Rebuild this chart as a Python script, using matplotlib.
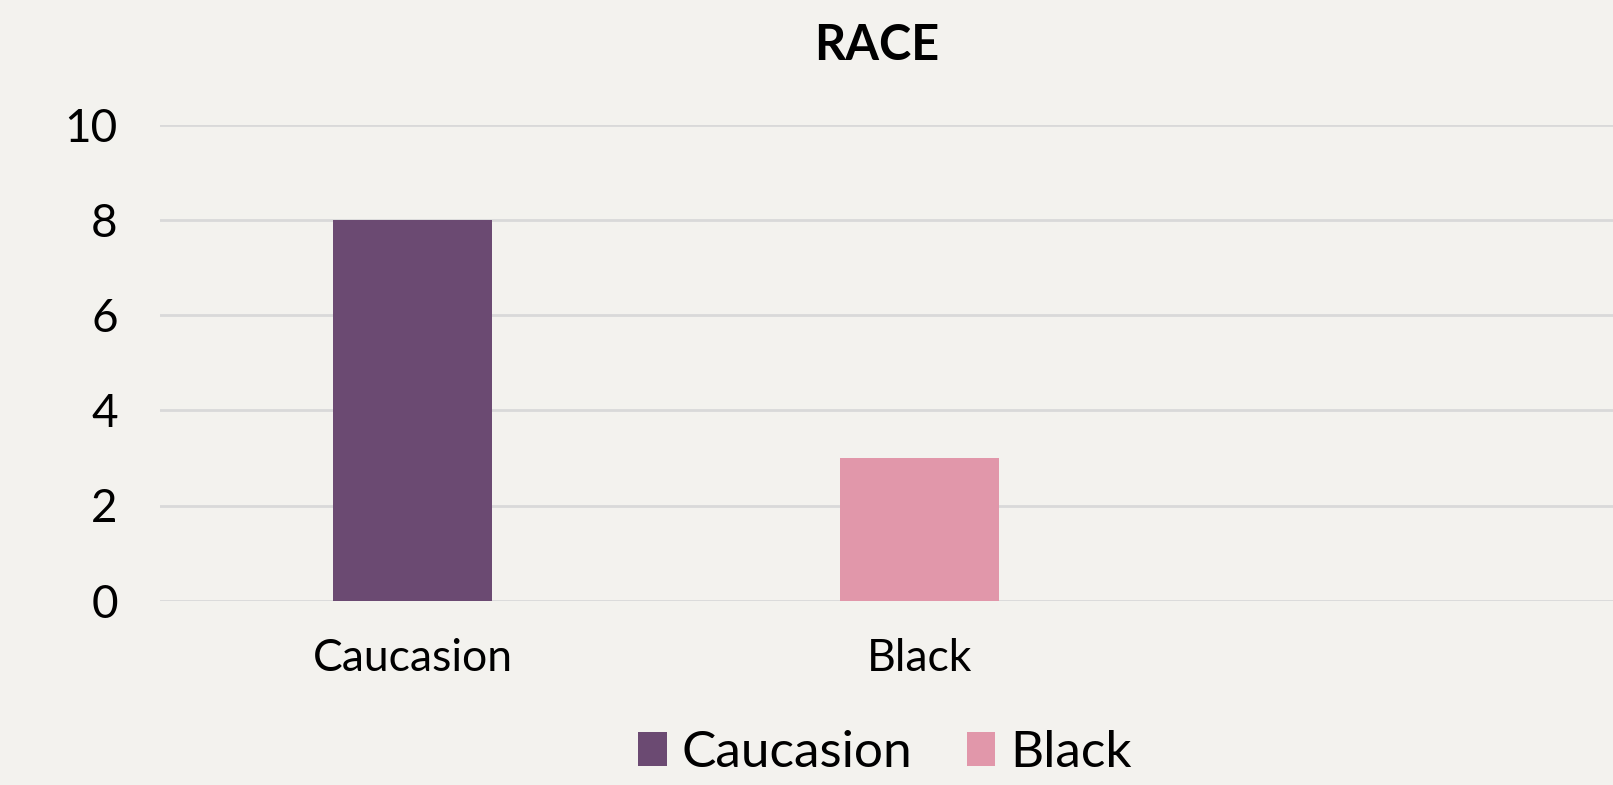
import matplotlib.pyplot as plt
from matplotlib.patches import Patch

categories = ["Caucasion", "Black", ""]
counts = [8, 3, 0]
series_colors = ["#6B4A72", "#E197AA"]
yticks = [0, 2, 4, 6, 8, 10]

plt.rcParams['font.family'] = ['Lato', 'DejaVu Sans']

bg = "#F3F2EE"
W, H = 1613, 785
fig = plt.figure(figsize=(W / 100, H / 100), dpi=100, facecolor=bg)

# plot area runs past the right edge of the image
ax = fig.add_axes([159.5 / W, (H - 600.7) / H, (1679 - 159.5) / W, (600.7 - 124.7) / H])
ax.set_facecolor(bg)

x = list(range(len(categories)))
ax.bar(x[:2], counts[:2], width=0.314, color=series_colors, zorder=3)

ax.set_xlim(-0.5, 2.5)
ax.set_ylim(0, 10)
ax.set_yticks(yticks)
ax.set_yticklabels([str(v) for v in yticks], fontsize=33)
ax.set_xticks(x)
ax.set_xticklabels(categories, fontsize=32)
ax.tick_params(axis='y', length=0, pad=30)
ax.tick_params(axis='x', length=0, pad=27)
ax.grid(axis='y', color="#D9D9D9", linewidth=2, zorder=0)
for s in ax.spines.values():
    s.set_visible(False)

fig.text(877 / W, 1 - 46 / H, "RACE", ha='center', va='center',
         fontsize=35, fontweight='bold')

handles = [Patch(facecolor=c, edgecolor='none') for c in series_colors]
fig.legend(handles, categories[:2], loc='center', bbox_to_anchor=(885 / W, 1 - 753 / H),
           ncol=2, frameon=False, fontsize=37, handlelength=0.55, handleheight=0.62,
           handletextpad=0.29, columnspacing=1.06)

fig.savefig("out.png", dpi=100, facecolor=bg)
